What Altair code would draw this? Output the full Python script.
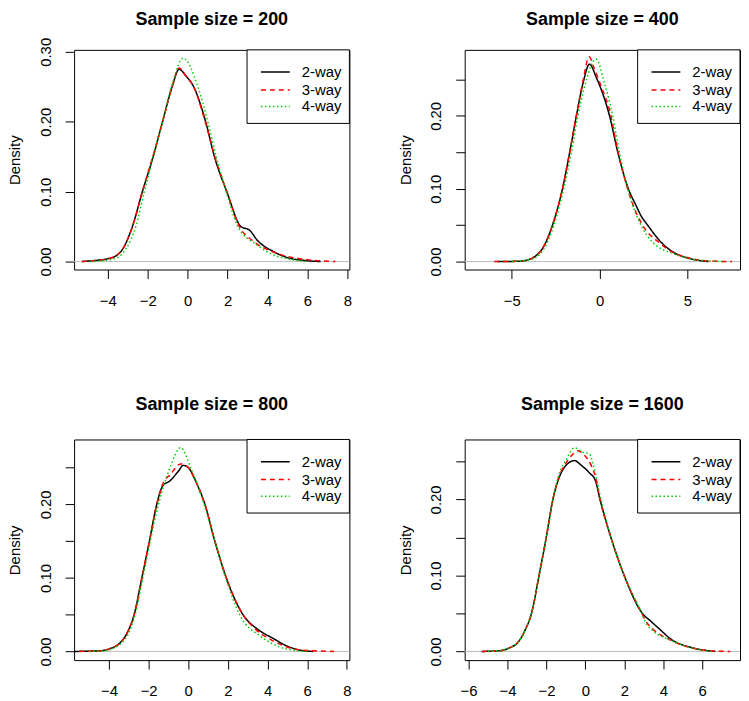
import altair as alt
import pandas as pd

FONT = "Liberation Sans"
SERIES = ["2-way", "3-way", "4-way"]
COLORS = ["#000000", "#FF0000", "#00CD00"]
DASHES = [[1, 0], [5, 4], [1.5, 2.5]]
TITLES = ["Sample size = 200", "Sample size = 400", "Sample size = 800", "Sample size = 1600"]

# ---- Sample size = 200 ----
p1_2way_x = [-5.3, -4.5, -4.0, -3.6, -3.3, -2.77, -2.27, -1.73, -1.26, -0.78, -0.43, -0.1, 0.30, 0.90, 1.34, 1.96, 2.67, 3.09, 3.5, 4.25, 5.08, 5.9, 6.66]
p1_2way_y = [0, 0.002, 0.004, 0.008, 0.016, 0.05, 0.10, 0.15, 0.20, 0.25, 0.275, 0.266, 0.25, 0.20, 0.15, 0.10, 0.05, 0.045, 0.03, 0.015, 0.005, 0.0015, 0]
p1_3way_x = [-5.3, -4.5, -4.0, -3.55, -3.25, -2.77, -2.27, -1.75, -1.26, -0.78, -0.43, -0.1, 0.30, 0.88, 1.36, 1.96, 2.59, 3.24, 4.17, 5.41, 6.2, 7.4]
p1_3way_y = [0, 0.002, 0.004, 0.009, 0.018, 0.05, 0.10, 0.15, 0.20, 0.25, 0.277, 0.266, 0.25, 0.20, 0.15, 0.10, 0.05, 0.03, 0.015, 0.005, 0.002, 0]
p1_4way_x = [-4.9, -4.0, -3.5, -3.05, -2.6, -2.17, -1.73, -1.26, -0.81, -0.23, 0.51, 1.01, 1.43, 1.93, 2.51, 3.42, 4.25, 5.2, 6.0]
p1_4way_y = [0, 0.002, 0.006, 0.02, 0.05, 0.10, 0.15, 0.20, 0.25, 0.291, 0.25, 0.20, 0.15, 0.10, 0.05, 0.025, 0.01, 0.003, 0]

# ---- Sample size = 400 ----
p2_2way_x = [-5.85, -4.6, -4.15, -3.68, -3.25, -2.68, -2.11, -1.70, -1.32, -0.94, -0.57, -0.19, 0.57, 1.04, 1.64, 2.08, 2.36, 2.74, 3.49, 4.15, 5.1, 6.2]
p2_2way_y = [0, 0.0005, 0.002, 0.007, 0.018, 0.05, 0.10, 0.15, 0.20, 0.245, 0.271, 0.253, 0.20, 0.15, 0.10, 0.077, 0.063, 0.05, 0.027, 0.0136, 0.0045, 0]
p2_3way_x = [-6.0, -4.6, -4.15, -3.68, -3.25, -2.68, -2.11, -1.70, -1.32, -0.94, -0.6, -0.3, 0.1, 0.6, 1.04, 1.6, 2.0, 2.45, 3.4, 4.15, 5.1, 6.2, 7.55]
p2_3way_y = [0, 0.0005, 0.002, 0.007, 0.018, 0.05, 0.10, 0.15, 0.20, 0.248, 0.281, 0.265, 0.24, 0.205, 0.152, 0.10, 0.072, 0.05, 0.026, 0.013, 0.005, 0.001, 0]
p2_4way_x = [-5.0, -4.15, -3.6, -3.15, -2.6, -2.04, -1.6, -1.23, -0.8, -0.19, 0.28, 0.75, 1.13, 1.6, 2.36, 3.0, 4.3, 5.3, 6.2, 7.0]
p2_4way_y = [0, 0.002, 0.006, 0.018, 0.05, 0.10, 0.15, 0.20, 0.245, 0.278, 0.245, 0.20, 0.15, 0.10, 0.05, 0.027, 0.01, 0.003, 0.001, 0]

# ---- Sample size = 800 ----
p3_2way_x = [-5.77, -4.43, -3.93, -3.43, -3.09, -2.73, -2.34, -1.96, -1.59, -1.29, -0.92, -0.5, -0.25, 0.0, 0.4, 0.84, 1.34, 1.92, 2.76, 3.51, 4.26, 4.93, 5.6, 6.3]
p3_2way_y = [0, 0.001, 0.004, 0.012, 0.025, 0.05, 0.10, 0.15, 0.20, 0.225, 0.232, 0.245, 0.253, 0.25, 0.23, 0.20, 0.15, 0.10, 0.05, 0.03, 0.018, 0.008, 0.002, 0]
p3_3way_x = [-5.5, -4.43, -3.93, -3.43, -3.09, -2.73, -2.34, -1.96, -1.59, -1.25, -0.92, -0.38, 0.0, 0.4, 0.84, 1.34, 1.92, 2.76, 3.4, 4.1, 4.9, 5.6, 6.3, 7.36]
p3_3way_y = [0, 0.001, 0.004, 0.012, 0.025, 0.05, 0.10, 0.15, 0.20, 0.23, 0.24, 0.255, 0.25, 0.23, 0.20, 0.15, 0.10, 0.05, 0.03, 0.017, 0.007, 0.002, 0.001, 0]
p3_4way_x = [-5.0, -4.3, -3.8, -3.35, -3.0, -2.68, -2.29, -1.92, -1.5, -0.92, -0.38, 0.12, 0.8, 1.34, 1.89, 2.59, 3.68, 4.43, 5.2, 6.0]
p3_4way_y = [0, 0.001, 0.004, 0.012, 0.025, 0.05, 0.10, 0.15, 0.20, 0.25, 0.277, 0.25, 0.20, 0.15, 0.10, 0.05, 0.02, 0.008, 0.002, 0]

# ---- Sample size = 1600 ----
p4_2way_x = [-5.33, -4.39, -3.88, -3.46, -3.1, -2.77, -2.38, -2.01, -1.67, -1.33, -0.99, -0.56, -0.22, 0.2, 0.51, 0.75, 1.31, 1.99, 2.93, 3.35, 3.78, 4.46, 5.48, 6.67]
p4_2way_y = [0, 0.001, 0.005, 0.012, 0.028, 0.05, 0.10, 0.15, 0.20, 0.23, 0.245, 0.251, 0.245, 0.235, 0.225, 0.20, 0.15, 0.10, 0.05, 0.04, 0.03, 0.015, 0.005, 0]
p4_3way_x = [-5.3, -4.39, -3.88, -3.46, -3.1, -2.77, -2.38, -2.01, -1.67, -1.33, -0.99, -0.7, -0.39, -0.05, 0.29, 0.51, 0.75, 1.31, 1.99, 2.9, 3.1, 3.44, 4.37, 5.4, 6.4, 7.44]
p4_3way_y = [0, 0.001, 0.005, 0.012, 0.028, 0.05, 0.10, 0.15, 0.20, 0.232, 0.248, 0.258, 0.264, 0.258, 0.245, 0.23, 0.20, 0.15, 0.10, 0.05, 0.04, 0.03, 0.015, 0.005, 0.001, 0]
p4_4way_x = [-5.0, -4.39, -3.88, -3.46, -3.1, -2.77, -2.38, -2.01, -1.67, -1.33, -0.99, -0.56, -0.14, 0.2, 0.41, 0.8, 1.31, 1.99, 2.9, 3.1, 3.44, 4.37, 5.4, 6.5]
p4_4way_y = [0, 0.001, 0.005, 0.012, 0.028, 0.05, 0.10, 0.15, 0.20, 0.235, 0.252, 0.268, 0.262, 0.26, 0.245, 0.20, 0.15, 0.10, 0.05, 0.038, 0.028, 0.015, 0.005, 0]

# axis settings per panel
X_DOMAINS = [[-5.69, 8.1], [-7.68, 8.0], [-5.76, 8.13], [-6.2, 7.94]]
Y_DOMAINS = [[-0.0114, 0.3028], [-0.0109, 0.2906], [-0.0118, 0.2882], [-0.0114, 0.2788]]
X_TICKS = [[-4, -2, 0, 2, 4, 6, 8], [-5, 0, 5], [-4, -2, 0, 2, 4, 6, 8], [-6, -4, -2, 0, 2, 4, 6]]
Y_TICKS = [[0, 0.05, 0.10, 0.15, 0.20, 0.25, 0.30],
           [0, 0.05, 0.10, 0.15, 0.20, 0.25],
           [0, 0.05, 0.10, 0.15, 0.20, 0.25],
           [0, 0.05, 0.10, 0.15, 0.20, 0.25]]
LEGEND_Y = [22.3, 40.3, 57.0]

PANELS = [
    [(p1_2way_x, p1_2way_y), (p1_3way_x, p1_3way_y), (p1_4way_x, p1_4way_y)],
    [(p2_2way_x, p2_2way_y), (p2_3way_x, p2_3way_y), (p2_4way_x, p2_4way_y)],
    [(p3_2way_x, p3_2way_y), (p3_3way_x, p3_3way_y), (p3_4way_x, p3_4way_y)],
    [(p4_2way_x, p4_2way_y), (p4_3way_x, p4_3way_y), (p4_4way_x, p4_4way_y)],
]

W = 277
HEIGHTS = [221, 221, 222, 222]
TITLE_Y = [-25.5, -25.5, -29.5, -29.5]

color_enc = alt.Color("series:N", scale=alt.Scale(domain=SERIES, range=COLORS), legend=None)
dash_enc = alt.StrokeDash("series:N", scale=alt.Scale(domain=SERIES, range=DASHES), legend=None)


def make_panel(i):
    H = HEIGHTS[i]
    rows = []
    for s, (xs, ys) in zip(SERIES, PANELS[i]):
        for k, (xv, yv) in enumerate(zip(xs, ys)):
            rows.append({"series": s, "x": xv, "density": yv, "k": k})
    df = pd.DataFrame(rows)

    x_enc = alt.X("x:Q",
                  scale=alt.Scale(domain=X_DOMAINS[i], nice=False, zero=False),
                  axis=alt.Axis(values=X_TICKS[i], title=None, format="d",
                                labelBaseline="middle", labelPadding=22,
                                labelFlush=False, labelOverlap=False, labelBound=False))
    y_enc = alt.Y("density:Q",
                  scale=alt.Scale(domain=Y_DOMAINS[i], nice=False, zero=False),
                  axis=alt.Axis(values=Y_TICKS[i], title="Density",
                                labelExpr="round(datum.value*20) % 2 == 0 ? format(datum.value, '.2f') : ''",
                                labelAngle=270, labelAlign="center", labelBaseline="middle",
                                labelPadding=20, labelFlush=False, labelOverlap=False, labelBound=False,
                                titleX=-60, titleY=H / 2, titleAngle=270,
                                titleAlign="center", titleBaseline="middle"))

    zero = alt.Chart(pd.DataFrame({"z": [0]})).mark_rule(color="#BEBEBE", strokeWidth=1).encode(
        y=alt.Y("z:Q"))
    lines = alt.Chart(df).mark_line(strokeWidth=1.5, interpolate="monotone", clip=True).encode(
        x=x_enc, y=y_enc, color=color_enc, strokeDash=dash_enc, order="k:Q")

    box = alt.Chart(pd.DataFrame({"a": [0]})).mark_rect(fill="white", stroke="black", strokeWidth=1).encode(
        x=alt.value(174), x2=alt.value(W), y=alt.value(0), y2=alt.value(74))
    leg_df = pd.DataFrame({"series": SERIES, "ly": LEGEND_Y})
    leg_lines = alt.Chart(leg_df).mark_rule(strokeWidth=1.5).encode(
        x=alt.value(188), x2=alt.value(217),
        y=alt.Y("ly:Q", scale=None, axis=None),
        color=color_enc, strokeDash=dash_enc)
    leg_text = alt.Chart(leg_df).mark_text(align="left", baseline="middle", fontSize=15, font=FONT,
                                           color="black").encode(
        x=alt.value(229), y=alt.Y("ly:Q", scale=None, axis=None), text="series:N")

    title = alt.Chart(pd.DataFrame({"t": [TITLES[i]]})).mark_text(
        align="center", baseline="alphabetic", fontSize=18, fontWeight="bold", font=FONT,
        color="black").encode(x=alt.value(W / 2), y=alt.value(TITLE_Y[i]), text="t:N")

    return alt.layer(zero, lines, box, leg_lines, leg_text, title).properties(width=W, height=H)


chart = alt.concat(*[make_panel(i) for i in range(4)], columns=2,
                   spacing={"row": 171, "column": 116}, bounds="flush").properties(
    padding={"left": -1.5, "top": 0, "right": 0, "bottom": 0},
    background="white",
).configure_view(stroke="black", strokeWidth=1).configure_axis(
    domain=False, grid=False, tickColor="black", tickSize=9, tickWidth=1,
    labelFont=FONT, labelFontSize=15, labelColor="black",
    titleFont=FONT, titleFontSize=15, titleFontWeight="normal", titleColor="black",
)

chart.save("out.html", embed_options={"renderer": "svg", "actions": False})
